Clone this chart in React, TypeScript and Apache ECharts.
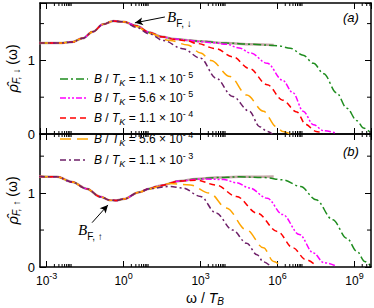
import { useEffect, useRef } from "react";
import * as echarts from "echarts";

// ---------- axis ranges & ticks ----------
const omegaMin = 5.5e-4;
const omegaMax = 4.4e9;
const rhoMaxTop = 1.78;
const rhoMaxBottom = 1.8;
const yLabelTicks = [0, 1];
const yMinorTicks = [0.5, 1.5];
const xMajorExponents = [-3, 0, 3, 6, 9];
const xMinorMultipliers = [2, 3, 4, 5, 6, 7, 8, 9];

// ---------- legend ----------
const fieldMantissa = ["1.1", "5.6", "1.1", "5.6", "1.1"];
const fieldExponent = ["-5", "-5", "-4", "-4", "-3"];
const seriesColors = ["#1e8c1e", "#ff00ff", "#ff0000", "#ffa500", "#6e1f68"];
const seriesDash = [
  [8, 3, 2, 3],
  [6, 2, 2, 2, 2, 2],
  [6, 4],
  [11, 6],
  [6, 3, 2, 3],
];
const refColor = "#c4a6a6";

// ---------- data: [log10(omega / T_B), rho] ----------
// panel (a): spin down
const downLow: number[][] = [
  [-3.3, 1.235], [-2.5, 1.235], [-2.0, 1.25], [-1.6, 1.3], [-1.2, 1.39],
  [-0.8, 1.49], [-0.4, 1.535], [0, 1.525],
];
const downRef: number[][] = [
  [0.5, 1.47], [1.0, 1.38], [1.5, 1.32], [2.0, 1.29], [2.5, 1.275],
  [3.0, 1.26], [4.0, 1.235], [5.0, 1.22], [5.85, 1.21],
];
const downB1: number[][] = [
  [0.5, 1.47], [1.0, 1.38], [1.5, 1.32], [2.0, 1.29], [2.5, 1.275],
  [3.0, 1.26], [4.0, 1.235], [5.0, 1.22], [6.0, 1.2], [6.5, 1.165],
  [7.0, 1.07], [7.4, 0.96], [7.8, 0.82], [8.3, 0.56], [8.7, 0.35],
  [9.1, 0.18], [9.35, 0.08], [9.62, 0.02],
];
const downB2: number[][] = [
  [0.5, 1.47], [1.0, 1.38], [1.5, 1.32], [2.0, 1.29], [2.5, 1.275],
  [3.0, 1.255], [3.5, 1.24], [4.0, 1.22], [4.5, 1.17], [4.95, 1.1],
  [5.6, 0.96], [6.2, 0.73], [6.6, 0.56], [7.0, 0.31], [7.4, 0.125],
  [7.8, 0.045], [8.3, 0.01],
];
const downB3: number[][] = [
  [0.5, 1.47], [1.0, 1.38], [1.5, 1.32], [2.0, 1.285], [2.5, 1.265],
  [2.85, 1.23], [3.6, 1.16], [4.25, 1.05], [4.9, 0.89], [5.6, 0.67],
  [6.2, 0.46], [6.75, 0.3], [7.1, 0.13], [7.5, 0.035], [7.8, 0.005],
];
const downB4: number[][] = [
  [0.5, 1.46], [1.0, 1.37], [1.8, 1.27], [2.5, 1.21], [3.0, 1.1],
  [3.4, 1.0], [4.15, 0.78], [4.8, 0.53], [5.45, 0.31], [5.95, 0.1],
  [6.2, 0.035], [6.5, 0.0],
];
const downB5: number[][] = [
  [0.5, 1.45], [1.0, 1.36], [1.55, 1.27], [2.3, 1.16], [3.0, 1.03],
  [3.6, 0.76], [4.25, 0.51], [4.9, 0.31], [5.3, 0.1], [5.6, 0.035],
  [5.8, 0.0],
];

// panel (b): spin up
const upLow: number[][] = [
  [-3.3, 1.225], [-2.6, 1.22], [-2.0, 1.15], [-1.45, 1.06], [-0.9, 0.95],
  [-0.55, 0.905], [-0.3, 0.9], [0, 0.92], [0.6, 1.01],
];
const upRef: number[][] = [
  [1.0, 1.06], [1.4, 1.1], [2.2, 1.165], [2.8, 1.19], [3.6, 1.21],
  [4.5, 1.22], [5.85, 1.225],
];
const upB1: number[][] = [
  [1.0, 1.06], [1.4, 1.1], [2.2, 1.165], [2.8, 1.19], [3.6, 1.21],
  [4.5, 1.22], [5.5, 1.21], [6.2, 1.18], [6.9, 1.09], [7.5, 0.91],
  [8.15, 0.64], [8.7, 0.39], [9.1, 0.21], [9.4, 0.075], [9.62, 0.02],
];
const upB2: number[][] = [
  [1.0, 1.06], [1.4, 1.1], [2.2, 1.165], [3.0, 1.19], [3.9, 1.185],
  [4.4, 1.14], [4.9, 1.07], [5.6, 0.93], [6.2, 0.71], [6.85, 0.44],
  [7.4, 0.19], [7.8, 0.06], [8.3, 0.01],
];
const upB3: number[][] = [
  [1.0, 1.06], [1.4, 1.1], [2.2, 1.165], [2.85, 1.175], [3.6, 1.11],
  [4.4, 0.955], [5.2, 0.73], [6.0, 0.48], [6.6, 0.26], [7.1, 0.1],
  [7.5, 0.02],
];
const upB4: number[][] = [
  [1.0, 1.06], [1.8, 1.13], [2.6, 1.11], [3.35, 1.0], [4.0, 0.8],
  [4.8, 0.5], [5.45, 0.26], [5.85, 0.075], [6.1, 0.02],
];
const upB5: number[][] = [
  [1.0, 1.06], [1.8, 1.09], [2.3, 1.07], [3.0, 0.955], [3.6, 0.73],
  [4.25, 0.5], [4.8, 0.32], [5.2, 0.165], [5.45, 0.07], [5.7, 0.02],
];

// annotation arrows: [log10 omega, rho] tail -> head
const arrowDown = [[1.61, 1.59], [0.44, 1.51]];
const arrowUp = [[-1.23, 0.6], [-0.61, 0.84]];

const FONT = "Liberation Sans";
const SERIF = "Liberation Serif";

const toPoints = (pts: number[][]) => pts.map(([lw, v]) => [Math.pow(10, lw), v]);

const xMinorValues: number[] = [];
xMajorExponents.forEach((e) =>
  xMinorMultipliers.forEach((m) => {
    const v = m * Math.pow(10, e);
    if (v > omegaMin && v < omegaMax) xMinorValues.push(v);
  })
);

export default function App() {
  const ref = useRef<HTMLDivElement>(null);

  useEffect(() => {
    if (!ref.current) return;
    const chart = echarts.init(ref.current, null, { renderer: "svg" });

    const axisLine = { show: true, onZero: false, lineStyle: { color: "#000", width: 1.5 } };
    const axisTick = { show: true, inside: true, length: 6, lineStyle: { color: "#000", width: 1 } };

    const xAxis = (gridIndex: number, position: string, labels: boolean) => ({
      type: "log",
      logBase: 1000,
      gridIndex,
      position,
      min: omegaMin,
      max: omegaMax,
      axisLine,
      axisTick,
      minorTick: { show: false },
      splitLine: { show: false },
      axisLabel: labels
        ? {
            show: true,
            margin: 4,
            color: "#000",
            fontFamily: FONT,
            showMinLabel: false,
            showMaxLabel: false,
            formatter: (v: number) => {
              const lv = Math.log10(v);
              const e = Math.round(lv);
              if (Math.abs(lv - e) > 0.01 || !xMajorExponents.includes(e)) return "";
              return `{m|10}{e|${e}}`;
            },
            rich: {
              m: { fontSize: 12, lineHeight: 16, verticalAlign: "bottom", fontFamily: FONT, color: "#000" },
              e: { fontSize: 9, lineHeight: 9, verticalAlign: "top", fontFamily: FONT, color: "#000" },
            },
          }
        : { show: false },
    });

    const yAxis = (gridIndex: number, position: string, max: number, labels: boolean) => ({
      type: "value",
      gridIndex,
      position,
      min: 0,
      max,
      interval: 1,
      axisLine,
      axisTick,
      splitLine: { show: false },
      axisLabel: labels
        ? {
            show: true,
            margin: 5,
            color: "#000",
            fontSize: 13,
            fontFamily: FONT,
            formatter: (v: number) => (yLabelTicks.includes(v) ? String(v) : ""),
          }
        : { show: false },
    });

    const minorTicks = (g: number, yMax: number) => ({
      type: "custom",
      xAxisIndex: g * 2,
      yAxisIndex: g * 2,
      silent: true,
      clip: false,
      z: 5,
      encode: { x: 0, y: 1 },
      data: [
        ...xMinorValues.map((v) => [v, 0, 0]),
        ...yMinorTicks.filter((v) => v < yMax).map((v) => [omegaMin, v, 1]),
      ],
      renderItem: (_p: any, api: any) => {
        const style = { stroke: "#000", lineWidth: 1 };
        if (api.value(2) === 0) {
          const v = api.value(0);
          const b = api.coord([v, 0]);
          const t = api.coord([v, yMax]);
          return {
            type: "group",
            children: [
              { type: "line", shape: { x1: b[0], y1: b[1], x2: b[0], y2: b[1] - 3 }, style },
              { type: "line", shape: { x1: t[0], y1: t[1], x2: t[0], y2: t[1] + 3 }, style },
            ],
          };
        }
        const v = api.value(1);
        const l = api.coord([omegaMin, v]);
        const r = api.coord([omegaMax, v]);
        return {
          type: "group",
          children: [
            { type: "line", shape: { x1: l[0], y1: l[1], x2: l[0] + 4, y2: l[1] }, style },
            { type: "line", shape: { x1: r[0], y1: r[1], x2: r[0] - 4, y2: r[1] }, style },
          ],
        };
      },
    });

    const arrowMark = (a: number[][]) => ({
      silent: true,
      symbol: ["none", "arrow"],
      symbolSize: [6, 8],
      label: { show: false },
      lineStyle: { color: "#000", width: 1, type: "solid" },
      data: [[
        { coord: [Math.pow(10, a[0][0]), a[0][1]] },
        { coord: [Math.pow(10, a[1][0]), a[1][1]] },
      ]],
    });

    const panelSeries = (g: number, low: number[][], refTail: number[][], tails: number[][][], arrow: number[][]) => {
      const list: any[] = [
        {
          type: "line",
          xAxisIndex: g * 2,
          yAxisIndex: g * 2,
          symbol: "none",
          smooth: 0.35,
          smoothMonotone: "x",
          lineStyle: { color: refColor, width: 2.5 },
          data: toPoints([...low, ...refTail]),
          markLine: arrowMark(arrow),
        },
      ];
      tails.forEach((tail, i) =>
        list.push({
          type: "line",
          xAxisIndex: g * 2,
          yAxisIndex: g * 2,
          symbol: "none",
          smooth: 0.35,
          smoothMonotone: "x",
          lineStyle: { color: seriesColors[i], width: 1.5, type: seriesDash[i] },
          data: toPoints([...low, ...tail]),
        })
      );
      return list;
    };

    const legendRows = [79, 98, 118, 139, 160];
    const legendGraphics: any[] = [];
    fieldMantissa.forEach((m, i) => {
      const y = legendRows[i];
      legendGraphics.push({
        type: "line",
        shape: { x1: 60, y1: y, x2: 88, y2: y },
        style: { stroke: seriesColors[i], lineWidth: 1.5, lineDash: seriesDash[i] },
        z: 10,
      });
      legendGraphics.push({
        type: "text",
        x: 94,
        y,
        z: 10,
        style: {
          text: `{i|B}{n| / }{i|T}{k|K}{n| = ${m} × 10}{e|${fieldExponent[i].replace("-", "- ")}}`,
          verticalAlign: "middle",
          align: "left",
          rich: {
            i: { fontSize: 12, fontStyle: "italic", fontFamily: FONT, fill: "#000" },
            n: { fontSize: 12, fontFamily: FONT, fill: "#000" },
            k: { fontSize: 9, fontStyle: "italic", fontFamily: FONT, fill: "#000", padding: [7, 0, 0, 0] },
            e: { fontSize: 9, fontFamily: FONT, fill: "#000", padding: [0, 0, 9, 0] },
          },
        },
      });
    });

    const labelRich = {
      r: { fontSize: 15, fontStyle: "italic", fontFamily: FONT, fill: "#000" },
      s: { fontSize: 10, fontStyle: "italic", fontFamily: FONT, fill: "#000", padding: [8, 0, 0, 0] },
      n: { fontSize: 14, fontFamily: FONT, fill: "#000" },
    };

    const annRich = {
      b: { fontSize: 15, fontStyle: "italic", fontFamily: SERIF, fill: "#000" },
      s: { fontSize: 10, fontFamily: FONT, fill: "#000", padding: [12, 0, 0, 0] },
    };

    const option: any = {
      animation: false,
      backgroundColor: "#fff",
      grid: [
        { left: 40, width: 331, top: 3, height: 131 },
        { left: 40, width: 331, top: 134, height: 133 },
      ],
      xAxis: [
        xAxis(0, "bottom", false),
        xAxis(0, "top", false),
        xAxis(1, "bottom", true),
        xAxis(1, "top", false),
      ],
      yAxis: [
        yAxis(0, "left", rhoMaxTop, true),
        yAxis(0, "right", rhoMaxTop, false),
        yAxis(1, "left", rhoMaxBottom, true),
        yAxis(1, "right", rhoMaxBottom, false),
      ],
      series: [
        ...panelSeries(0, downLow, downRef, [downB1, downB2, downB3, downB4, downB5], arrowDown),
        ...panelSeries(1, upLow, upRef, [upB1, upB2, upB3, upB4, upB5], arrowUp),
        minorTicks(0, rhoMaxTop),
        minorTicks(1, rhoMaxBottom),
      ],
      graphic: [
        ...legendGraphics,
        {
          type: "text",
          x: 12,
          y: 68.5,
          rotation: Math.PI / 2,
          style: { text: "{r|ρ̂}{s|F, ↓}{n| (ω)}", align: "center", verticalAlign: "middle", rich: labelRich },
        },
        {
          type: "text",
          x: 12,
          y: 200.5,
          rotation: Math.PI / 2,
          style: { text: "{r|ρ̂}{s|F, ↑}{n| (ω)}", align: "center", verticalAlign: "middle", rich: labelRich },
        },
        {
          type: "text",
          x: 205,
          y: 298,
          style: {
            text: "{n|ω / }{t|T}{s|B}",
            align: "center",
            verticalAlign: "middle",
            rich: {
              n: { fontSize: 14, fontFamily: FONT, fill: "#000" },
              t: { fontSize: 14, fontStyle: "italic", fontFamily: FONT, fill: "#000" },
              s: { fontSize: 10, fontStyle: "italic", fontFamily: FONT, fill: "#000", padding: [6, 0, 0, 0] },
            },
          },
        },
        {
          type: "text",
          x: 167,
          y: 17,
          style: { text: "{b|B}{s|F, ↓}", align: "left", verticalAlign: "middle", rich: annRich },
        },
        {
          type: "text",
          x: 78,
          y: 230,
          style: { text: "{b|B}{s|F, ↑}", align: "left", verticalAlign: "middle", rich: annRich },
        },
        {
          type: "text",
          x: 343,
          y: 17,
          style: { text: "(a)", fontSize: 13, fontStyle: "italic", fontFamily: FONT, fill: "#000", verticalAlign: "middle" },
        },
        {
          type: "text",
          x: 343,
          y: 151,
          style: { text: "(b)", fontSize: 13, fontStyle: "italic", fontFamily: FONT, fill: "#000", verticalAlign: "middle" },
        },
      ],
    };

    chart.setOption(option);
    return () => chart.dispose();
  }, []);

  return (
    <div
      ref={ref}
      style={{ position: "fixed", left: 0, top: 0, width: 374, height: 308, background: "#fff" }}
    />
  );
}
